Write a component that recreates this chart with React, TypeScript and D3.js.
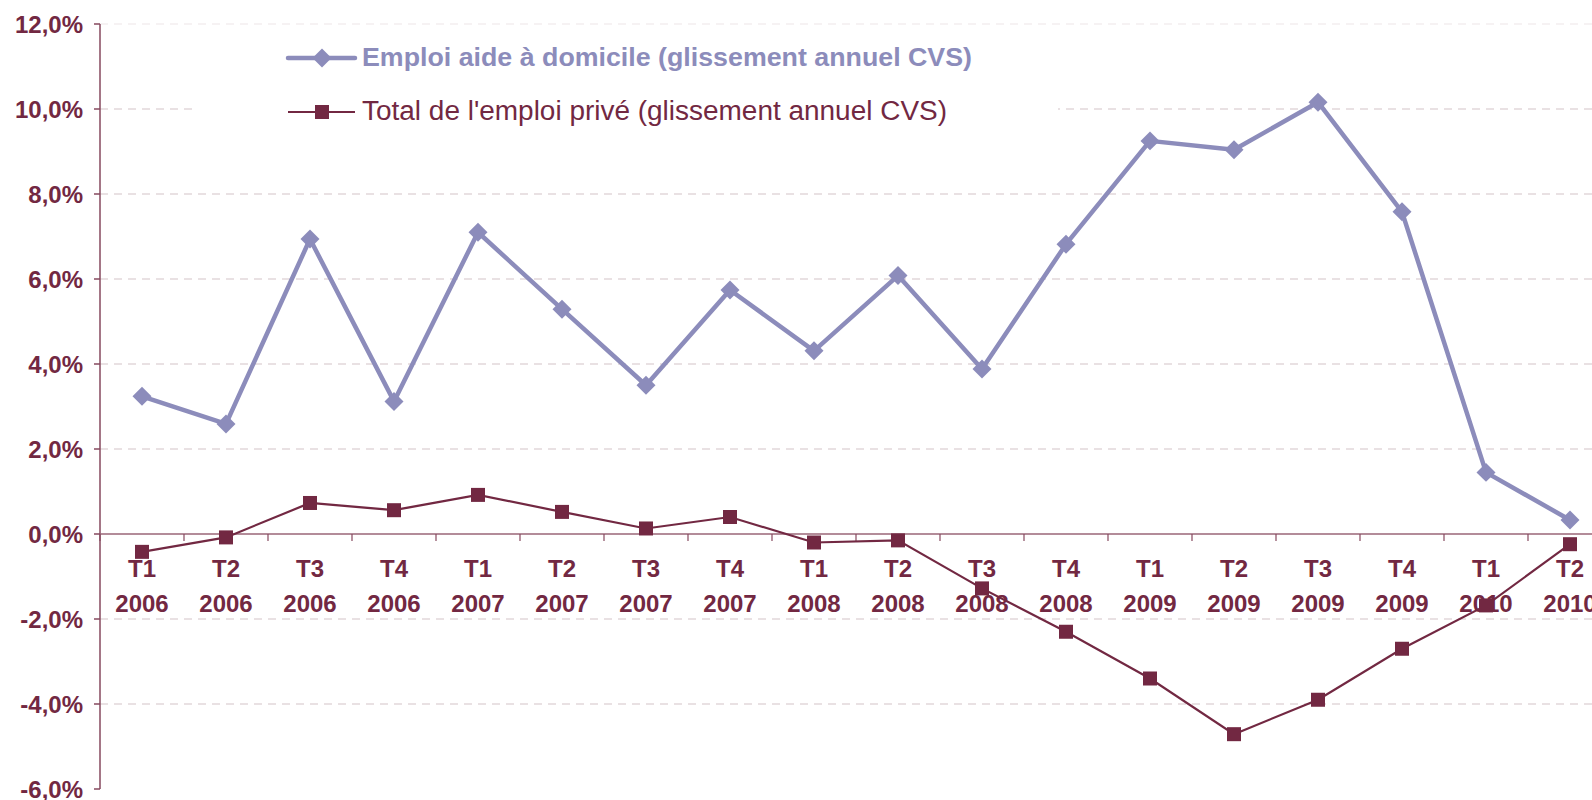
import React from "react";
import * as d3 from "d3";

const quarters = ["T1","T2","T3","T4","T1","T2","T3","T4","T1","T2","T3","T4","T1","T2","T3","T4","T1","T2"];
const years = ["2006","2006","2006","2006","2007","2007","2007","2007","2008","2008","2008","2008","2009","2009","2009","2009","2010","2010"];
const aideDomicile = [3.24,2.59,6.94,3.12,7.10,5.29,3.50,5.74,4.31,6.08,3.88,6.82,9.25,9.04,10.16,7.58,1.45,0.33];
const totalPrive = [-0.42,-0.08,0.73,0.56,0.92,0.52,0.13,0.40,-0.20,-0.15,-1.28,-2.30,-3.40,-4.71,-3.90,-2.70,-1.68,-0.24];
const yTicks = [-6,-4,-2,0,2,4,6,8,10,12];
const legendLabels = ["Emploi aide à domicile (glissement annuel CVS)", "Total de l'emploi privé (glissement annuel CVS)"];

const MAROON = "#722842";
const LAVENDER = "#8c8cbb";
const GRID = "#d3c3c8";
const FONT = "'Liberation Sans', Arial, sans-serif";

export default function App() {
  const W = 1592, H = 800;
  const left = 100, right = 1612, top = 24, bottom = 789;
  const idx = d3.range(quarters.length).map(String);
  const x = d3.scaleBand().domain(idx).range([left, right]).paddingInner(0).paddingOuter(0);
  const y = d3.scaleLinear().domain([-6, 12]).range([bottom, top]);
  const cx = (i: number) => (x(String(i)) as number) + x.bandwidth() / 2;
  const line = d3.line<number>().x((_, i) => cx(i)).y((d) => y(d));
  const fmt = (v: number) => v.toFixed(1).replace(".", ",") + "%";
  const diamond = d3.symbol().type(d3.symbolDiamond2).size(230)();
  const sq = 14;

  return (
    <svg width={W} height={H} style={{ position: "absolute", left: 0, top: 0, display: "block", background: "#fff" }}>
      {/* gridlines */}
      {yTicks.filter((t) => t !== 0 && t !== -6).map((t) => (
        <line key={t} x1={left} x2={W} y1={y(t)} y2={y(t)} stroke={GRID} strokeWidth={1.2} strokeDasharray="8,6" opacity={t === 12 ? 0.4 : 1} />
      ))}
      {/* legend background */}
      <rect x={198} y={36} width={860} height={96} fill="#fff" />
      {/* y axis */}
      <line x1={left} x2={left} y1={top} y2={bottom} stroke="#86495e" strokeWidth={1.5} />
      {yTicks.map((t) => (
        <g key={t}>
          <line x1={left - 6} x2={left} y1={y(t)} y2={y(t)} stroke="#86495e" strokeWidth={1.5} />
          <text x={83} y={y(t) + 8.5} textAnchor="end" fontFamily={FONT} fontWeight="bold" fontSize={24} fill={MAROON}>{fmt(t)}</text>
        </g>
      ))}
      {/* x axis at 0 */}
      <line x1={left} x2={W} y1={y(0)} y2={y(0)} stroke="#9a6677" strokeWidth={1.5} />
      {d3.range(quarters.length + 1).map((i) => {
        const xx = left + i * x.bandwidth();
        return <line key={i} x1={xx} x2={xx} y1={y(0)} y2={y(0) + 7} stroke="#86495e" strokeWidth={1.2} />;
      })}
      {quarters.map((q, i) => (
        <g key={i}>
          <text x={cx(i)} y={577} textAnchor="middle" fontFamily={FONT} fontWeight="bold" fontSize={24} fill={MAROON}>{q}</text>
          <text x={cx(i)} y={612} textAnchor="middle" fontFamily={FONT} fontWeight="bold" fontSize={24} fill={MAROON}>{years[i]}</text>
        </g>
      ))}
      {/* series */}
      <path d={line(aideDomicile) || ""} fill="none" stroke={LAVENDER} strokeWidth={4.5} strokeLinejoin="round" />
      {aideDomicile.map((v, i) => (
        <path key={i} d={diamond || ""} transform={`translate(${cx(i)},${y(v)})`} fill={LAVENDER} />
      ))}
      <path d={line(totalPrive) || ""} fill="none" stroke={MAROON} strokeWidth={2.2} />
      {totalPrive.map((v, i) => (
        <rect key={i} x={cx(i) - sq / 2} y={y(v) - sq / 2} width={sq} height={sq} fill={MAROON} />
      ))}
      {/* legend */}
      <g>
        <line x1={288} x2={355} y1={58} y2={58} stroke={LAVENDER} strokeWidth={4.5} strokeLinecap="round" />
        <path d={diamond || ""} transform="translate(322,58)" fill={LAVENDER} />
        <text x={362} y={66} fontFamily={FONT} fontWeight="bold" fontSize={26} textLength={610} lengthAdjust="spacingAndGlyphs" fill={LAVENDER}>{legendLabels[0]}</text>
        <line x1={288} x2={355} y1={112} y2={112} stroke={MAROON} strokeWidth={2.2} />
        <rect x={322 - sq / 2} y={112 - sq / 2} width={sq} height={sq} fill={MAROON} />
        <text x={362} y={120} fontFamily={FONT} fontSize={27} textLength={585} lengthAdjust="spacingAndGlyphs" fill={MAROON}>{legendLabels[1]}</text>
      </g>
    </svg>
  );
}
